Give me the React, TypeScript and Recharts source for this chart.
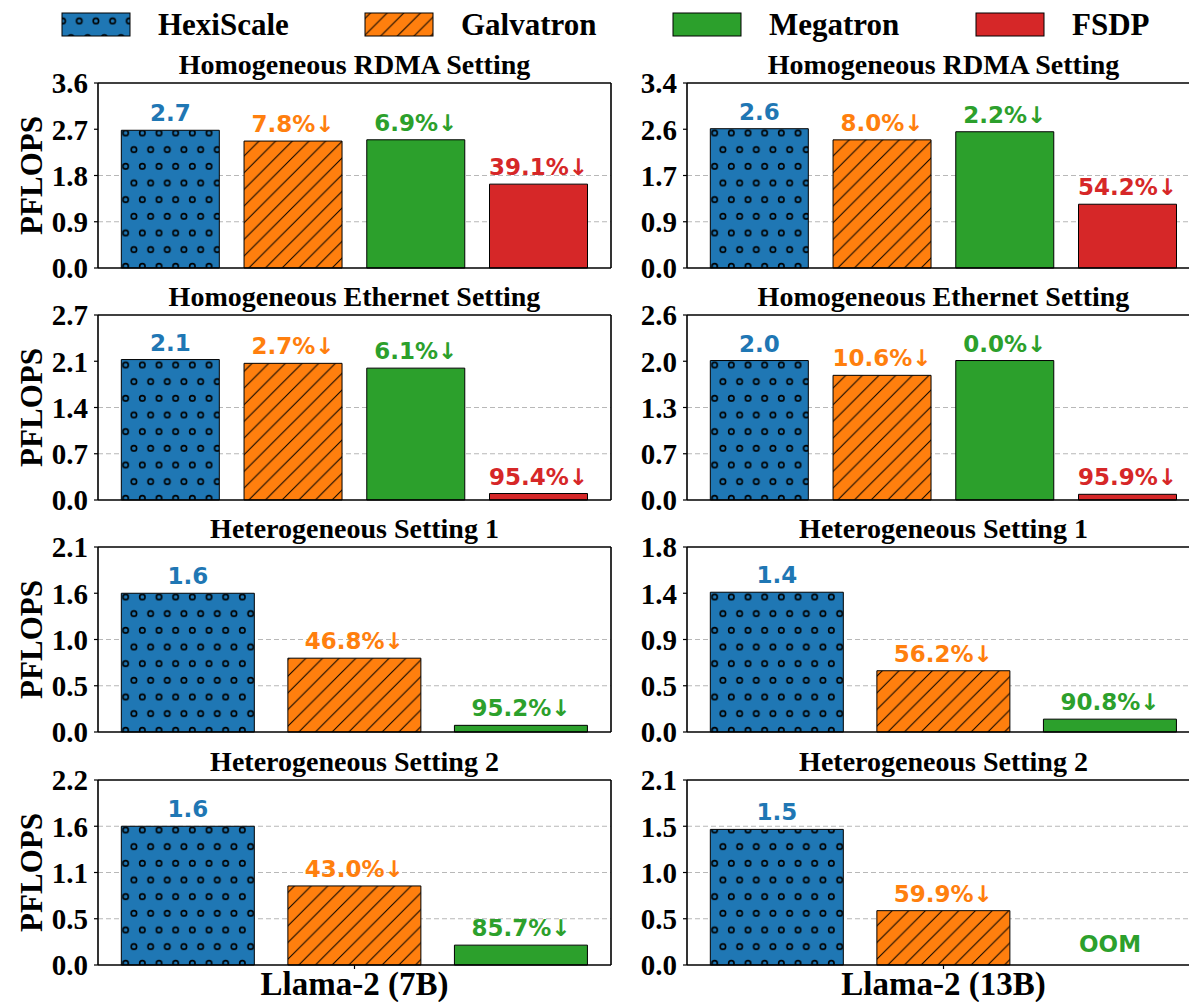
import React from "react";
import { BarChart, Bar, XAxis, YAxis, CartesianGrid, Cell, LabelList, ReferenceDot } from "recharts";

const systems = ["HexiScale", "Galvatron", "Megatron", "FSDP"];
const colors = ["#1f77b4", "#ff7f0e", "#2ca02c", "#d62728"];
const fills = ["url(#hexiDots)", "url(#galvHatch)", "#2ca02c", "#d62728"];

// PFLOPS per system (7B left column, 13B right column)
const rdma7b = [2.68, 2.47, 2.495, 1.632];
const rdma13b = [2.56, 2.355, 2.504, 1.172];
const eth7b = [2.08, 2.024, 1.953, 0.096];
const eth13b = [1.96, 1.752, 1.96, 0.08];
const het1_7b = [1.56, 0.83, 0.075];
const het1_13b = [1.36, 0.596, 0.125];
const het2_7b = [1.62, 0.923, 0.232];
const het2_13b = [1.51, 0.605, null]; // Megatron runs out of memory

// slowdown against HexiScale, percent
const rdma7bDrop = [7.8, 6.9, 39.1];
const rdma13bDrop = [8.0, 2.2, 54.2];
const eth7bDrop = [2.7, 6.1, 95.4];
const eth13bDrop = [10.6, 0.0, 95.9];
const het1_7bDrop = [46.8, 95.2];
const het1_13bDrop = [56.2, 90.8];
const het2_7bDrop = [43.0, 85.7];
const het2_13bDrop = [59.9];

// y-axis top and tick labels
const rdma7bTop = 3.6;
const rdma13bTop = 3.4;
const eth7bTop = 2.74;
const eth13bTop = 2.6;
const het1_7bTop = 2.08;
const het1_13bTop = 1.8;
const het2_7bTop = 2.16;
const het2_13bTop = 2.06;

const rdma7bTicks = ["0.0", "0.9", "1.8", "2.7", "3.6"];
const rdma13bTicks = ["0.0", "0.9", "1.7", "2.6", "3.4"];
const eth7bTicks = ["0.0", "0.7", "1.4", "2.1", "2.7"];
const eth13bTicks = ["0.0", "0.7", "1.3", "2.0", "2.6"];
const het1_7bTicks = ["0.0", "0.5", "1.0", "1.6", "2.1"];
const het1_13bTicks = ["0.0", "0.5", "0.9", "1.4", "1.8"];
const het2_7bTicks = ["0.0", "0.5", "1.1", "1.6", "2.2"];
const het2_13bTicks = ["0.0", "0.5", "1.0", "1.5", "2.1"];

const settings = [
  "Homogeneous RDMA Setting",
  "Homogeneous Ethernet Setting",
  "Heterogeneous Setting 1",
  "Heterogeneous Setting 2",
];
const models = ["Llama-2 (7B)", "Llama-2 (13B)"];

const SERIF = "'Liberation Serif', 'Times New Roman', serif";
const SANS = "'DejaVu Sans', sans-serif";

const PLOT_W = 513;
const PLOT_H = 185;
const Y_W = 60;
const M_T = 20;
const M_R = 8;
const COL_X = [98, 687];
const ROW_Y = [83, 315, 547, 780];

type PanelProps = {
  values: (number | null)[];
  drops: number[];
  top: number;
  ticks: string[];
  grid: number;
  model?: string;
};

function Panel({ values, drops, top, ticks, grid, model }: PanelProps) {
  const n = values.length;
  const data = values.map((v, i) => ({ name: systems[i], value: v }));
  // matplotlib-style bar layout: width 0.8 with 5% axis margins
  const pitch = PLOT_W / (1.1 * (n - 0.2));
  const pad = (PLOT_W - n * pitch) / 2;
  const tickVals = [0, 1, 2, 3, 4].map((i) => (top * i) / 4);
  const mb = model ? 50 : 20;
  const frame = { stroke: "#000", strokeWidth: 1.6 };
  const base = M_T + 1 + PLOT_H;

  const renderLabel = (p: any) => {
    const i = p.index;
    const v = values[i];
    if (v === null || v === undefined) return null;
    const text = i === 0 ? v.toFixed(1) : `${drops[i - 1].toFixed(1)}%\u2193`;
    return (
      <text
        key={`lbl-${i}`}
        x={p.x + p.width / 2}
        y={p.y - 9}
        textAnchor="middle"
        fill={colors[i]}
        fontFamily={SANS}
        fontWeight="bold"
        fontSize={23}
      >
        {text}
      </text>
    );
  };

  const modelTick = (p: any) => {
    if (!model || p.index !== 1) return <g />;
    return (
      <g>
        <line x1={p.x} x2={p.x} y1={base} y2={base + 4} stroke="#000" strokeWidth={1.2} />
        <text x={p.x} y={base + 30} textAnchor="middle" fontFamily={SERIF} fontWeight="bold" fontSize={33} fill="#000">
          {model}
        </text>
      </g>
    );
  };

  return (
    <BarChart
      width={Y_W + PLOT_W + 1 + M_R}
      height={M_T + 1 + PLOT_H + 1 + mb}
      data={data}
      margin={{ top: M_T, right: M_R, bottom: mb, left: 0 }}
      barCategoryGap="10%"
      style={{ overflow: "visible" }}
    >
      <CartesianGrid
        vertical={false}
        horizontalValues={tickVals.slice(1, grid + 1)}
        stroke="#b8b8b8"
        strokeWidth={1.2}
        strokeDasharray="5 3"
      />
      <XAxis
        dataKey="name"
        height={1}
        padding={{ left: pad, right: pad }}
        axisLine={frame}
        tickLine={false}
        tick={modelTick}
        interval={0}
      />
      <XAxis
        xAxisId="top"
        orientation="top"
        dataKey="name"
        height={1}
        tick={false}
        tickLine={false}
        axisLine={frame}
      />
      <YAxis
        domain={[0, top]}
        ticks={tickVals}
        interval={0}
        tickFormatter={(_: any, i: number) => ticks[i]}
        width={Y_W}
        axisLine={frame}
        tickLine={{ stroke: "#000", strokeWidth: 1.2 }}
        tickSize={4}
        tickMargin={6}
        tick={{ fill: "#000", fontFamily: SERIF, fontWeight: "bold", fontSize: 29 }}
      />
      <YAxis yAxisId="right" orientation="right" width={1} tick={false} tickLine={false} axisLine={frame} />
      <Bar
        dataKey={(d: any) => d.value ?? 0}
        isAnimationActive={false}
        stroke="#000"
        strokeWidth={1}
      >
        {data.map((_, i) => (
          <Cell key={i} fill={fills[i]} />
        ))}
        <LabelList content={renderLabel} />
      </Bar>
      {data
        .filter((d) => d.value === null)
        .map((d) => (
          <ReferenceDot
            key={`oom-${d.name}`}
            x={d.name}
            y={0}
            r={1}
            fill="none"
            stroke="none"
            label={{
              value: "OOM",
              position: "top",
              offset: 12,
              fill: colors[systems.indexOf(d.name)],
              fontFamily: SANS,
              fontWeight: "bold",
              fontSize: 23,
            }}
          />
        ))}
    </BarChart>
  );
}

const panels: PanelProps[][] = [
  [
    { values: rdma7b, drops: rdma7bDrop, top: rdma7bTop, ticks: rdma7bTicks, grid: 2 },
    { values: rdma13b, drops: rdma13bDrop, top: rdma13bTop, ticks: rdma13bTicks, grid: 2 },
  ],
  [
    { values: eth7b, drops: eth7bDrop, top: eth7bTop, ticks: eth7bTicks, grid: 2 },
    { values: eth13b, drops: eth13bDrop, top: eth13bTop, ticks: eth13bTicks, grid: 2 },
  ],
  [
    { values: het1_7b, drops: het1_7bDrop, top: het1_7bTop, ticks: het1_7bTicks, grid: 2 },
    { values: het1_13b, drops: het1_13bDrop, top: het1_13bTop, ticks: het1_13bTicks, grid: 2 },
  ],
  [
    { values: het2_7b, drops: het2_7bDrop, top: het2_7bTop, ticks: het2_7bTicks, grid: 3, model: models[0] },
    { values: het2_13b, drops: het2_13bDrop, top: het2_13bTop, ticks: het2_13bTicks, grid: 3, model: models[1] },
  ],
];

const legendX = [62, 365, 673, 976];

export default function App() {
  return (
    <div
      style={{
        position: "absolute",
        left: 0,
        top: 0,
        width: 1189,
        height: 1002,
        overflow: "hidden",
        background: "#fff",
      }}
    >
      <svg width={0} height={0} style={{ position: "absolute" }}>
        <defs>
          <pattern id="hexiDots" patternUnits="userSpaceOnUse" width={16.67} height={33.33}>
            <rect width={16.67} height={33.33} fill="#1f77b4" />
            <circle cx={4.3} cy={4.3} r={2.7} fill="none" stroke="#000" strokeWidth={1.6} />
            <circle cx={12.6} cy={21} r={2.7} fill="none" stroke="#000" strokeWidth={1.6} />
          </pattern>
          <pattern id="galvHatch" patternUnits="userSpaceOnUse" width={16.67} height={16.67}>
            <rect width={16.67} height={16.67} fill="#ff7f0e" />
            <path
              d="M0,16.67 L16.67,0 M-4,4 L4,-4 M12.67,20.67 L20.67,12.67"
              stroke="#000"
              strokeWidth={1}
            />
          </pattern>
        </defs>
      </svg>

      {panels.map((row, r) =>
        row.map((p, c) => (
          <div
            key={`${r}-${c}`}
            style={{ position: "absolute", left: COL_X[c] - Y_W, top: ROW_Y[r] - M_T - 1 }}
          >
            <Panel {...p} />
          </div>
        ))
      )}

      <svg
        width={1189}
        height={1002}
        style={{ position: "absolute", left: 0, top: 0, pointerEvents: "none" }}
      >
        {systems.map((s, i) => (
          <g key={s}>
            <rect
              x={legendX[i]}
              y={13}
              width={68}
              height={23}
              fill={fills[i]}
              stroke="#000"
              strokeWidth={1}
            />
            <text
              x={legendX[i] + 96}
              y={35}
              fontFamily={SERIF}
              fontWeight="bold"
              fontSize={31}
              fill="#000"
            >
              {s}
            </text>
          </g>
        ))}
        {settings.map((t, r) =>
          COL_X.map((x) => (
            <text
              key={`${t}-${x}`}
              x={x + PLOT_W / 2}
              y={ROW_Y[r] - 9}
              textAnchor="middle"
              fontFamily={SERIF}
              fontWeight="bold"
              fontSize={28}
              fill="#000"
            >
              {t}
            </text>
          ))
        )}
        {ROW_Y.map((y) => (
          <text
            key={`yl-${y}`}
            transform={`translate(42, ${y + PLOT_H / 2}) rotate(-90)`}
            textAnchor="middle"
            fontFamily={SERIF}
            fontWeight="bold"
            fontSize={31}
            fill="#000"
          >
            PFLOPS
          </text>
        ))}
      </svg>
    </div>
  );
}
